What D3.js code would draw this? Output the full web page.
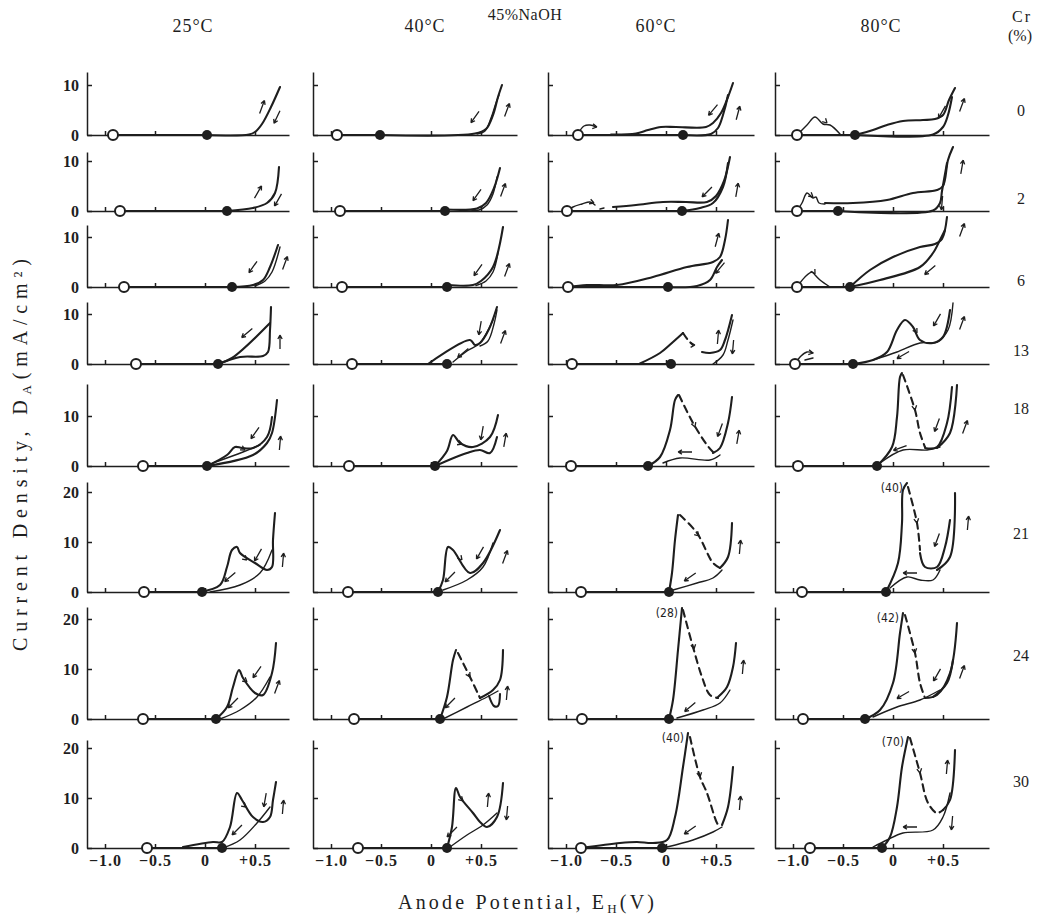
<!DOCTYPE html>
<html>
<head>
<meta charset="utf-8">
<script src="https://cdn.jsdelivr.net/npm/d3@7"></script>
<style>
  body { margin: 0; background: #fff; }
  text { font-family: "Liberation Serif", "DejaVu Serif", serif; fill: #1e1e1e; }
</style>
</head>
<body>
<div id="chart"></div>
<script>
// ---- data ----
var crLevels = ["0", "2", "6", "13", "18", "21", "24", "30"];
var temps = ["25°C", "40°C", "60°C", "80°C"];
var xTickValues = [-1, -0.5, 0, 0.5];
var xTickLabels = ["−1.0", "−0.5", "0", "+0.5"];
var yTicks = [[0, 10], [0, 10], [0, 10], [0, 10], [0, 10], [0, 10, 20], [0, 10, 20], [0, 10, 20]];

// open circle (start) and filled circle (rest potential), V
var openPotential = [
  [-0.92, -0.94, -0.88, -0.96],
  [-0.85, -0.91, -0.99, -0.96],
  [-0.81, -0.89, -0.98, -0.96],
  [-0.69, -0.79, -0.94, -0.98],
  [-0.62, -0.82, -0.95, -0.95],
  [-0.61, -0.83, -0.85, -0.91],
  [-0.62, -0.77, -0.84, -0.90],
  [-0.58, -0.73, -0.85, -0.83]
];
var restPotential = [
  [0.02, -0.51, 0.17, -0.38],
  [0.22, 0.14, 0.16, -0.55],
  [0.27, 0.16, 0.02, -0.43],
  [0.13, 0.16, 0.05, -0.40],
  [0.02, 0.04, -0.18, -0.16],
  [-0.03, 0.07, 0.03, -0.07],
  [0.11, 0.09, 0.03, -0.28],
  [0.17, 0.16, -0.04, -0.11]
];

// polarisation curves [style, [[E, D], ...]]  s = heavy, t = thin, d = dashed
var curves = [
  [ // Cr 0
    [["s", [[0.02,0],[0.44,0.1],[0.5,0.6],[0.57,2.2],[0.66,5.6],[0.75,9.6]]]],
    [["s", [[-0.51,0],[0.44,0.3],[0.55,1.2],[0.62,4],[0.67,7.6],[0.71,10]]],
     ["t", [[0.46,0.2],[0.54,0.8],[0.6,3.4],[0.65,6.4],[0.68,8]]]],
    [["t", [[-0.88,0.2],[-0.82,1.8],[-0.76,2.0],[-0.7,1.6]]],
     ["s", [[-0.55,0.1],[-0.3,0.3],[-0.18,1],[-0.05,1.6],[0.1,1.6],[0.4,1.6],[0.47,2.4],[0.55,4.4],[0.62,7.6],[0.67,10.4]]],
     ["s", [[0.17,0],[0.45,0.2],[0.52,1.4],[0.57,4],[0.62,8]]]],
    [["t", [[-0.96,0],[-0.86,2],[-0.78,3.6],[-0.7,2.2],[-0.63,2],[-0.53,0.2]]],
     ["s", [[-0.38,0],[-0.2,1],[-0.06,2],[0.1,2.8],[0.3,3],[0.42,3.2],[0.5,4],[0.56,7],[0.62,9.4]]],
     ["s", [[-0.38,0],[0.4,0.1],[0.5,1.6],[0.55,4],[0.59,7.6]]]]
  ],
  [ // Cr 2
    [["s", [[0.22,0],[0.48,0.6],[0.62,1.6],[0.70,3.6],[0.74,8.8]]]],
    [["s", [[0.14,0.3],[0.46,0.5],[0.55,1.6],[0.63,4.6],[0.69,8.6]]],
     ["t", [[0.3,0.1],[0.48,0.2],[0.56,1.2],[0.62,3.4],[0.66,6.8]]]],
    [["t", [[-0.99,0],[-0.93,0.8],[-0.84,1.4],[-0.76,1.8],[-0.71,1.2]]],
     ["t", [[-0.66,0.4],[-0.62,0.6]]],
     ["s", [[-0.53,0.8],[-0.3,1.2],[-0.03,1.8],[0.2,1.8],[0.41,1.8],[0.5,3],[0.58,6],[0.64,10.8]]],
     ["s", [[0.16,0],[0.34,0.6],[0.47,1.6],[0.57,4.8],[0.62,9.6]]]],
    [["t", [[-0.96,0],[-0.91,1.6],[-0.86,3.6],[-0.8,2.6],[-0.77,2.8],[-0.74,1.6],[-0.68,1.4]]],
     ["s", [[-0.68,1.6],[-0.4,1.6],[-0.06,2.2],[0.2,3.6],[0.44,4.2],[0.5,5],[0.55,10.2],[0.6,12.8]]],
     ["s", [[-0.55,0],[0.40,0.1],[0.47,1.6],[0.49,4],[0.54,9.6]]]]
  ],
  [ // Cr 6
    [["s", [[0.27,0],[0.48,0.4],[0.58,1.4],[0.65,4],[0.73,8.4]]],
     ["t", [[0.5,0.2],[0.6,1.2],[0.67,3],[0.75,8]]]],
    [["s", [[0.16,0.4],[0.42,0.4],[0.5,1.2],[0.62,4],[0.72,12]]],
     ["t", [[0.45,0.3],[0.55,1.2],[0.62,3],[0.67,6.8]]]],
    [["s", [[-0.98,0],[-0.79,0.4],[-0.49,0.4],[-0.13,2],[0.21,4],[0.47,5],[0.54,6],[0.59,9.4],[0.62,13.4]]],
     ["s", [[0.02,0],[0.31,0.2],[0.44,1.4],[0.51,4],[0.56,5.4]]]],
    [["t", [[-0.96,0],[-0.88,2],[-0.81,3],[-0.78,2.4],[-0.73,1.4],[-0.63,0]]],
     ["s", [[-0.43,0],[-0.23,3.4],[0,6],[0.27,8],[0.42,8.6],[0.49,9.6],[0.54,14]]],
     ["s", [[-0.43,0],[-0.13,1.4],[0.27,4],[0.4,6.8],[0.47,9.4],[0.52,11.4]]]]
  ],
  [ // Cr 13
    [["s", [[0.13,0],[0.35,1.4],[0.58,1.6],[0.63,2.4],[0.65,6.8],[0.66,11.4]]],
     ["s", [[0.65,8.2],[0.27,1.2],[0.13,0]]]],
    [["s", [[-0.03,0],[0.39,4.8],[0.44,3.8],[0.49,4.2],[0.58,7],[0.66,11.4]]],
     ["t", [[0.22,0.4],[0.36,2.6],[0.49,4.2],[0.62,8.8]]],
     ["t", [[0.49,3.6],[0.57,4.6],[0.63,8],[0.66,10.8]]]],
    [["s", [[-0.26,0.1],[-0.06,2.2],[0.07,4.4],[0.17,6.2]]],
     ["d", [[0.17,6.2],[0.22,4.8],[0.27,3.8]]],
     ["s", [[0.36,2.4],[0.44,2.2],[0.54,2.8],[0.59,4.8],[0.66,9.8]]],
     ["t", [[0.47,0],[0.57,1.8],[0.62,4.8],[0.67,8.8]]]],
    [["t", [[-0.98,0],[-0.92,1.6],[-0.86,2.4],[-0.8,2.2]]],
     ["t", [[-0.88,0.8],[-0.8,1.2]]],
     ["s", [[-0.40,0],[-0.2,0.8],[-0.06,2.4],[0.04,6.8],[0.12,8.8],[0.2,7.4],[0.27,4.8],[0.40,4.2],[0.5,5.4],[0.57,10.8]]],
     ["t", [[-0.2,0.8],[0.04,2.4],[0.27,4.2],[0.44,4.4],[0.55,6.8],[0.6,12.2]]]]
  ],
  [ // Cr 18
    [["s", [[0.02,0],[0.22,2.2],[0.30,3.8],[0.37,3.6],[0.48,3.6],[0.62,5.8],[0.67,9.8]]],
     ["s", [[0.02,0],[0.48,2.2],[0.62,4.6],[0.67,6.6],[0.72,13.2]]],
     ["t", [[0.08,0.6],[0.38,2.8],[0.55,4.2]]]],
    [["s", [[0.04,0],[0.16,3],[0.22,6.2],[0.29,4.6],[0.42,3.8],[0.59,5.8],[0.67,10.2]]],
     ["s", [[0.04,0],[0.36,2.6],[0.49,3.2],[0.59,2.6],[0.66,5.8]]]],
    [["s", [[-0.18,0],[-0.06,1.8],[0.04,7.2],[0.09,13.2],[0.12,14.2]]],
     ["d", [[0.13,14.2],[0.27,8.6],[0.41,4.2],[0.47,2.8]]],
     ["s", [[0.47,2.6],[0.54,3.6],[0.62,8.6],[0.66,13.8]]],
     ["t", [[-0.03,0.6],[0.14,1.6],[0.44,1.2],[0.54,2.2]]]],
    [["s", [[-0.16,0],[-0.01,3.8],[0.04,9.8],[0.07,17.8],[0.09,18.6]]],
     ["d", [[0.1,18.2],[0.22,11.2],[0.27,6.6],[0.32,3.8]]],
     ["s", [[0.32,3.6],[0.44,3.8],[0.54,8.6],[0.59,15.8]]],
     ["s", [[0.44,3.6],[0.57,6.6],[0.64,16.2]]],
     ["t", [[-0.13,0.6],[0.1,3.2],[0.34,3.2],[0.47,3.8]]]]
  ],
  [ // Cr 21
    [["s", [[-0.05,0],[0.15,1.4],[0.22,5],[0.27,8.4],[0.32,9],[0.35,7.8],[0.5,5.8],[0.62,4.4],[0.67,5],[0.68,10.4],[0.70,15.8]]],
     ["t", [[0.05,0],[0.35,1.4],[0.55,3.8],[0.67,8.4]]]],
    [["s", [[0.07,0],[0.12,2.4],[0.17,9],[0.22,8.4],[0.39,3.8],[0.52,5.8],[0.69,12.4]]],
     ["t", [[0.12,0.4],[0.36,2.4],[0.52,5],[0.62,9.8]]]],
    [["s", [[0.03,0],[0.06,3.8],[0.09,10.4],[0.12,15.4]]],
     ["d", [[0.14,15.4],[0.31,11.8],[0.47,5.8],[0.54,4.8]]],
     ["s", [[0.54,4.8],[0.62,7],[0.66,13.8]]],
     ["t", [[0.07,0.4],[0.31,1.8],[0.47,2.8],[0.56,4.4]]]],
    [["s", [[-0.07,0],[0.05,5.8],[0.09,13.8],[0.10,20.4],[0.14,21.8]]],
     ["d", [[0.15,21],[0.24,13.8],[0.27,8.4]]],
     ["s", [[0.27,7.8],[0.32,5],[0.44,5],[0.52,9],[0.57,14.4]]],
     ["s", [[0.44,4.4],[0.57,7],[0.62,19.8]]],
     ["t", [[-0.03,0.8],[0.14,3],[0.27,2.4],[0.40,2.4],[0.47,4.4]]]]
  ],
  [ // Cr 24
    [["s", [[0.11,0],[0.22,2.4],[0.28,6.4],[0.34,9.8],[0.38,8.2],[0.5,5.2],[0.58,4.8],[0.67,9.2],[0.71,15.2]]],
     ["t", [[0.15,0],[0.35,1.8],[0.52,4.4],[0.65,8.4]]]],
    [["s", [[0.09,0],[0.16,4.4],[0.22,11.8],[0.25,13.8]]],
     ["d", [[0.27,13.2],[0.39,8.4],[0.49,4.2]]],
     ["s", [[0.49,4.2],[0.62,5.8],[0.69,7.8],[0.72,13.8]]],
     ["t", [[0.12,0],[0.36,2.4],[0.56,4.4],[0.67,5.6]]],
     ["s", [[0.58,4.6],[0.63,2.6],[0.67,2.6],[0.69,5]]]],
    [["s", [[0.03,0],[0.07,3.8],[0.12,13.8],[0.16,22.2]]],
     ["d", [[0.17,21.8],[0.27,14.4],[0.36,8.4],[0.44,4.8],[0.52,4.2]]],
     ["s", [[0.52,4.4],[0.61,6.4],[0.67,10.4],[0.70,15.2]]],
     ["t", [[0.11,0.2],[0.37,1.8],[0.54,3.2],[0.64,5.8]]]],
    [["s", [[-0.28,0],[-0.13,1.8],[0,7.2],[0.07,17.2],[0.10,21.2]]],
     ["d", [[0.12,20.8],[0.22,13.2],[0.27,7.2],[0.32,4.2]]],
     ["s", [[0.32,4.2],[0.44,4.8],[0.57,9.2],[0.64,19.2]]],
     ["s", [[0.40,4.4],[0.54,7.2],[0.60,11.8]]],
     ["t", [[-0.2,0.4],[0.04,2.4],[0.27,3.8],[0.47,5.8]]]]
  ],
  [ // Cr 30
    [["s", [[-0.22,0.2],[0.08,1.2],[0.17,1.2],[0.25,4.2],[0.32,11],[0.37,9.6],[0.48,6.2],[0.58,5.2],[0.65,6.2],[0.68,9.6],[0.71,13.2]]],
     ["t", [[0.18,0],[0.35,1.6],[0.52,5],[0.65,8.2]]]],
    [["s", [[0.16,0],[0.21,4.2],[0.25,12],[0.29,10.2],[0.42,7],[0.49,5.2],[0.56,4.2],[0.66,6.2],[0.72,13]]],
     ["t", [[0.19,0.2],[0.36,2.6],[0.52,4.6],[0.66,7]]]],
    [["s", [[-0.85,0],[-0.46,1],[-0.29,1.2],[-0.13,1],[0.01,1.6],[0.09,6.2],[0.17,16.2],[0.22,23]]],
     ["d", [[0.24,22.2],[0.34,14.2],[0.41,11],[0.51,5],[0.54,4.2]]],
     ["s", [[0.56,4.6],[0.62,8.2],[0.67,16.2]]],
     ["t", [[0.01,0.2],[0.27,1.6],[0.47,3.2],[0.56,4.2]]]],
    [["s", [[-0.11,0],[-0.03,2.2],[0.04,8.2],[0.09,16.2],[0.15,22.2]]],
     ["d", [[0.17,22],[0.27,15],[0.35,9],[0.44,7],[0.50,7.6]]],
     ["s", [[0.5,7.6],[0.57,9.6],[0.62,19.6]]],
     ["t", [[-0.2,0.2],[-0.06,1.6],[0.1,3],[0.4,3.6],[0.5,6.2],[0.57,11]]]]
  ]
];

// sweep-direction arrows [E, D, angle(deg, screen), kind]  kind "h" = head only
var arrows = [
  [ [[0.57,5.6,-70],[0.72,3.6,115]],
    [[0.44,3.6,125],[0.76,5,-70]],
    [[-0.69,1.6,10,"h"],[0.47,5,130],[0.72,4.4,-75]],
    [[-0.66,2.4,45,"h"],[0.49,4.6,120],[0.69,6,-70]] ],
  [ [[0.53,3.8,-60],[0.73,2.2,120]],
    [[0.46,3.2,125],[0.72,4.2,-70]],
    [[-0.72,1.6,20,"h"],[0.41,3.8,135],[0.71,4.2,-80]],
    [[-0.8,2.8,40,"h"],[0.49,1.6,95],[0.69,8.8,-80]] ],
  [ [[0.48,4,125],[0.8,4.8,-70]],
    [[0.47,3.4,125],[0.76,3.4,-70]],
    [[0.51,9.4,-75],[0.54,3.8,130]],
    [[-0.78,2.6,60,"h"],[0.37,3.4,140],[0.69,11.4,-70]] ],
  [ [[0.42,6.2,140],[0.75,4.4,-90]],
    [[0.49,7.2,100],[0.32,2.2,140],[0.72,5.4,-70]],
    [[0.29,3.8,0,"h"],[0.52,5.4,-85],[0.67,3.4,95]],
    [[-0.8,2.2,10,"h"],[0.24,6.2,60,"h"],[0.1,1.8,150],[0.44,8.8,120],[0.69,8.2,-70]] ],
  [ [[0.40,3.2,30,"h"],[0.5,6.6,125],[0.75,4.6,-85]],
    [[0.31,4.4,20,"h"],[0.51,6.6,100],[0.74,5.2,-80]],
    [[0.29,7.8,70,"h"],[0.19,2.8,180],[0.54,7.2,110],[0.72,5.8,-80]],
    [[0.22,11.2,80,"h"],[0.07,3.6,160],[0.44,8.2,110],[0.72,7.8,-70]] ],
  [ [[0.42,6.4,40,"h"],[0.25,3,140],[0.53,7.4,120],[0.78,6.4,-85]],
    [[0.31,6.4,50,"h"],[0.19,3,135],[0.49,7.8,120],[0.74,7,-70]],
    [[0.33,11.2,45,"h"],[0.24,3,145],[0.74,9,-85]],
    [[0.24,13.8,80,"h"],[0.17,3.8,180],[0.44,10.4,110],[0.75,13.8,-85]] ],
  [ [[0.42,7.4,40,"h"],[0.28,3.2,135],[0.52,9.4,125],[0.72,6.4,-70]],
    [[0.39,8.4,60,"h"],[0.19,3.2,135],[0.76,5.2,-85]],
    [[0.28,14,80,"h"],[0.24,2.4,140],[0.77,10.4,-85]],
    [[0.22,13.2,80,"h"],[0.1,4.8,150],[0.44,8.8,120],[0.69,9.4,-70]] ],
  [ [[0.41,8.2,40,"h"],[0.32,3.6,135],[0.6,9.6,100],[0.78,8.2,-85]],
    [[0.32,9.4,45,"h"],[0.21,3.2,135],[0.57,9.6,-85],[0.76,7,95]],
    [[0.34,14.2,80,"h"],[0.24,3.6,145],[0.74,9,-85]],
    [[0.27,15,80,"h"],[0.17,4.2,180],[0.54,16.2,-85],[0.59,5,95]] ]
];

// off-scale peak values written beside the peaks
var peakLabels = [
  {row: 5, col: 3, text: "(40)", E: 0.14, D: 21.8},
  {row: 6, col: 2, text: "(28)", E: 0.16, D: 22.2},
  {row: 6, col: 3, text: "(42)", E: 0.10, D: 21.2},
  {row: 7, col: 2, text: "(40)", E: 0.22, D: 23},
  {row: 7, col: 3, text: "(70)", E: 0.15, D: 22.2}
];

// ---- layout ----
var W = 1049, H = 915;
var colZero = [205, 431, 666, 893];      // pixel x of E = 0 in each column
var colRight = [0.84, 0.86, 0.88, 0.96];
var xLeft = -1.18;
var rowBase = [135, 211, 287, 364, 466, 592, 719, 848];
var rowTop = [12.6, 11.8, 12.4, 12.4, 16.4, 22, 22.4, 21.6];
var pxV = 100, pxMA = 5;
var crLabelY = [112, 200, 282, 352, 410, 535, 657, 783];
var tempLabelX = [193, 425, 656, 881];
var ink = "#1e1e1e";

var svg = d3.select("#chart").append("svg")
    .attr("width", W).attr("height", H);

svg.append("rect").attr("width", W).attr("height", H).attr("fill", "#fff");

function drawArrow(g, px, py, ang, kind) {
  var a = ang * Math.PI / 180, L = kind === "h" ? 0 : 14, hl = kind === "h" ? 5 : 4.5;
  var dx = Math.cos(a), dy = Math.sin(a);
  var tx = px + dx * L / 2, ty = py + dy * L / 2;
  var p = d3.path();
  if (L) { p.moveTo(px - dx * L / 2, py - dy * L / 2); p.lineTo(tx, ty); }
  [-1, 1].forEach(function(s) {
    var b = a + Math.PI + s * 0.5;
    p.moveTo(tx + Math.cos(b) * hl, ty + Math.sin(b) * hl);
    p.lineTo(tx, ty);
  });
  g.append("path").attr("d", p.toString())
      .attr("fill", "none").attr("stroke", ink).attr("stroke-width", 1.3);
}

crLevels.forEach(function(cr, r) {
  temps.forEach(function(t, c) {
    var x = d3.scaleLinear()
        .domain([xLeft, colRight[c]])
        .range([colZero[c] + xLeft * pxV, colZero[c] + colRight[c] * pxV]);
    var y = d3.scaleLinear()
        .domain([0, rowTop[r]])
        .range([rowBase[r], rowBase[r] - rowTop[r] * pxMA]);

    var g = svg.append("g");

    // axes
    var ya = g.append("g")
        .attr("transform", "translate(" + x(xLeft) + ",0)")
        .call(d3.axisLeft(y).tickValues(yTicks[r]).tickSize(-5).tickSizeOuter(0)
          .tickPadding(8).tickFormat(c === 0 ? d3.format("d") : ""));
    var xa = g.append("g")
        .attr("transform", "translate(0," + y(0) + ")")
        .call(d3.axisBottom(x).tickValues(xTickValues).tickSize(-4).tickSizeOuter(0)
          .tickPadding(7).tickFormat(r === 7 ? function(d, i) { return xTickLabels[i]; } : ""));
    [ya, xa].forEach(function(a) {
      a.attr("font-family", null).attr("font-size", null);
      a.selectAll("path, line").attr("stroke", ink).attr("stroke-width", 1.5);
      a.selectAll("text").attr("fill", ink).attr("font-size", 16).attr("font-weight", "bold");
    });
    xa.selectAll("text").attr("letter-spacing", 1);

    var line = d3.line()
        .x(function(d) { return x(d[0]); })
        .y(function(d) { return y(d[1]); })
        .curve(d3.curveCatmullRom.alpha(0.5));

    // rest region along zero current
    g.append("path")
        .attr("d", line([[openPotential[r][c], 0], [restPotential[r][c], 0]]))
        .attr("fill", "none").attr("stroke", ink).attr("stroke-width", 2);

    curves[r][c].forEach(function(cv) {
      g.append("path")
          .attr("d", line(cv[1]))
          .attr("fill", "none")
          .attr("stroke", ink)
          .attr("stroke-linejoin", "round")
          .attr("stroke-linecap", "round")
          .attr("stroke-width", cv[0] === "t" ? 1.4 : 2.1)
          .attr("stroke-dasharray", cv[0] === "d" ? "7,5" : null);
    });

    arrows[r][c].forEach(function(a) {
      drawArrow(g, x(a[0]), y(a[1]), a[2], a[3]);
    });

    g.append("circle")
        .attr("cx", x(restPotential[r][c])).attr("cy", y(0)).attr("r", 5)
        .attr("fill", ink);
    g.append("circle")
        .attr("cx", x(openPotential[r][c])).attr("cy", y(0)).attr("r", 5)
        .attr("fill", "#fff").attr("stroke", ink).attr("stroke-width", 2);

    peakLabels.filter(function(p) { return p.row === r && p.col === c; }).forEach(function(p) {
      g.append("text")
          .attr("x", x(p.E) - 4).attr("y", y(p.D) + 9)
          .attr("text-anchor", "end")
          .attr("font-size", 12)
          .style("font-family", "'Liberation Sans Narrow','DejaVu Sans Condensed',sans-serif")
          .text(p.text);
    });
  });

  svg.append("text")
      .attr("x", 1021).attr("y", crLabelY[r])
      .attr("text-anchor", "middle").attr("dominant-baseline", "middle")
      .attr("font-size", 16)
      .text(cr);
});

// headings
svg.append("text").attr("x", 525).attr("y", 20).attr("text-anchor", "middle")
    .attr("font-size", 16).attr("letter-spacing", 0.5).text("45%NaOH");
temps.forEach(function(t, c) {
  svg.append("text").attr("x", tempLabelX[c]).attr("y", 32).attr("text-anchor", "middle")
      .attr("font-size", 18).attr("letter-spacing", 1).text(t);
});
svg.append("text").attr("x", 1022).attr("y", 22).attr("text-anchor", "middle")
    .attr("font-size", 16).attr("letter-spacing", 2).text("Cr");
svg.append("text").attr("x", 1020).attr("y", 41).attr("text-anchor", "middle")
    .attr("font-size", 16).text("(%)");

// axis titles
var yt = svg.append("text")
    .attr("transform", "translate(27,455) rotate(-90)")
    .attr("text-anchor", "middle")
    .attr("font-size", 20)
    .attr("textLength", 392).attr("lengthAdjust", "spacing");
yt.append("tspan").text("Current Density, D");
yt.append("tspan").attr("font-size", 13).attr("dy", 4).text("A");
yt.append("tspan").attr("dy", -4).text("(mA/cm²)");

var xt = svg.append("text")
    .attr("x", 526).attr("y", 909)
    .attr("text-anchor", "middle")
    .attr("font-size", 20)
    .attr("textLength", 256).attr("lengthAdjust", "spacing");
xt.append("tspan").text("Anode Potential, E");
xt.append("tspan").attr("font-size", 13).attr("dy", 4).text("H");
xt.append("tspan").attr("dy", -4).text("(V)");
</script>
</body>
</html>
